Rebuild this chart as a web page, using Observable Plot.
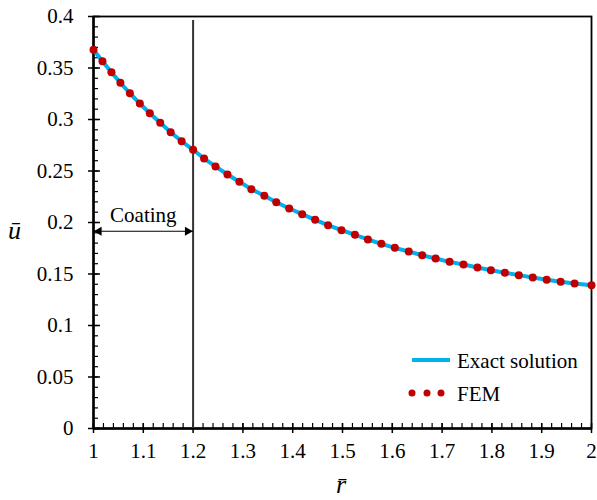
<!DOCTYPE html>
<html><head><meta charset="utf-8">
<script src="https://cdn.jsdelivr.net/npm/d3@7"></script>
<script src="https://cdn.jsdelivr.net/npm/@observablehq/plot@0.6"></script>
<style>
body{margin:0;background:#fff;}
#wrap{position:relative;width:597px;height:500px;font-family:'Liberation Serif','Times New Roman',serif;color:#000;}
.lab{position:absolute;font-style:italic;font-size:26px;line-height:1;font-family:'Liberation Serif','Times New Roman',serif;}
</style></head><body><div id="wrap"></div>
<script>
// data
const rValues = [1.000,1.018,1.036,1.054,1.073,1.093,1.113,1.134,1.155,1.177,1.200,
  1.222,1.245,1.269,1.293,1.317,1.343,1.367,1.393,1.419,1.445,
  1.471,1.498,1.525,1.551,1.578,1.605,1.633,1.660,1.687,1.715,
  1.743,1.771,1.798,1.826,1.854,1.882,1.910,1.938,1.966,2.000];
const uValues = [0.3677,0.3566,0.3459,0.3356,0.3255,0.3155,0.3061,0.2968,0.2877,0.2789,0.2706,
  0.2621,0.2544,0.2466,0.2395,0.2324,0.2259,0.2197,0.2136,0.2081,0.2026,
  0.1974,0.1925,0.1881,0.1835,0.1793,0.1754,0.1718,0.1682,0.1650,0.1618,
  0.1592,0.1563,0.1537,0.1512,0.1489,0.1466,0.1444,0.1425,0.1408,0.1391];
const xTicks = [1,1.1,1.2,1.3,1.4,1.5,1.6,1.7,1.8,1.9,2];
const xTickLabels = ["1","1.1","1.2","1.3","1.4","1.5","1.6","1.7","1.8","1.9","2"];
const yTicks = [0,0.05,0.1,0.15,0.2,0.25,0.3,0.35,0.4];
const yTickLabels = ["0","0.05","0.1","0.15","0.2","0.25","0.3","0.35","0.4"];
const xMinor = d3.range(0,51).map(i => 1 + i*0.02);
const yMinor = d3.range(0,41).map(i => i*0.01);
const coatingStart = 1.0, coatingEnd = 1.2, arrowY = 0.1915;
const seriesNames = ["Exact solution","FEM"];

const data = rValues.map((r,i) => ({r, u: uValues[i]}));
const xLab = new Map(xTicks.map((t,i)=>[t,xTickLabels[i]]));
const yLab = new Map(yTicks.map((t,i)=>[t,yTickLabels[i]]));

const W=597,H=500,mL=93,mR=6,mT=16,mB=72;
const pW=W-mL-mR, pH=H-mT-mB;
const FONT = "'Liberation Serif', 'Times New Roman', serif";

const chart = Plot.plot({
  width:W, height:H, marginLeft:mL, marginRight:mR, marginTop:mT, marginBottom:mB,
  style:{fontFamily:FONT, fontSize:"21px", color:"#000", background:"#fff"},
  x:{domain:[1,2]}, y:{domain:[0,0.4]},
  marks:[
    Plot.tickX(xMinor,{x:d=>d, insetTop:pH-5, stroke:"#000", strokeWidth:1.2}),
    Plot.tickY(yMinor,{y:d=>d, insetRight:pW-5, stroke:"#000", strokeWidth:1.2}),
    Plot.tickX(xTicks,{x:d=>d, insetTop:pH-5, stroke:"#000", strokeWidth:1.5}),
    Plot.tickY(yTicks,{y:d=>d, insetRight:pW-7, stroke:"#000", strokeWidth:1.5}),
    Plot.axisX({ticks:xTicks, tickSize:5, tickPadding:10, strokeWidth:1.5, stroke:"#000", tickFormat:d=>xLab.get(d), label:null, fontSize:21, fontFamily:FONT, fill:"#000"}),
    Plot.axisY({ticks:yTicks, tickSize:5, tickPadding:15, strokeWidth:1.5, stroke:"#000", tickFormat:d=>yLab.get(d), label:null, fontSize:21, fontFamily:FONT, fill:"#000"}),
    Plot.frame({stroke:"#000", strokeWidth:1.8}),
    Plot.ruleX([1],{stroke:"#000", strokeWidth:2.5}),
    Plot.ruleY([0],{stroke:"#000", strokeWidth:2.5}),
    Plot.ruleX([coatingEnd],{stroke:"#333", strokeWidth:2, insetTop:4}),
    Plot.link([0],{x1:()=>coatingStart, x2:()=>coatingEnd, y1:()=>arrowY, y2:()=>arrowY, stroke:"#000", strokeWidth:1.2}),
    Plot.dot([coatingStart],{x:d=>d, y:()=>arrowY, symbol:"triangle", r:3.4, rotate:-90, dx:5.5, fill:"#000", stroke:"none"}),
    Plot.dot([coatingEnd],{x:d=>d, y:()=>arrowY, symbol:"triangle", r:3.4, rotate:90, dx:-5.5, fill:"#000", stroke:"none"}),
    Plot.text(["Coating"],{x:()=>(coatingStart+coatingEnd)/2, y:()=>arrowY, text:d=>d, dy:-16, fontSize:21, fontFamily:FONT, fill:"#000"}),
    Plot.line(data,{x:"r", y:"u", stroke:"#00B0F0", strokeWidth:4}),
    Plot.dot(data,{x:"r", y:"u", r:4, fill:"#C00000", stroke:"none"})
  ]
});
const wrap = document.getElementById("wrap");
wrap.appendChild(chart);

// axis labels
const yl = document.createElement("div"); yl.className="lab"; yl.textContent="ū";
yl.style.left="8px"; yl.style.top="218px"; wrap.appendChild(yl);
const xl = document.createElement("div"); xl.className="lab"; xl.textContent="r\u0304";
xl.style.left="336px"; xl.style.top="472px"; wrap.appendChild(xl);

// legend overlay
const ns="http://www.w3.org/2000/svg";
const lg = document.createElementNS(ns,"svg");
lg.setAttribute("width",200); lg.setAttribute("height",70);
lg.style.position="absolute"; lg.style.left="400px"; lg.style.top="340px";
lg.innerHTML = `
<line x1="12" x2="50" y1="20" y2="20" stroke="#00B0F0" stroke-width="4"/>
<text x="57" y="28" style="font-family:${FONT};font-size:21px">${seriesNames[0]}</text>
<circle cx="12" cy="53" r="3.5" fill="#C00000"/>
<circle cx="27" cy="53" r="3.5" fill="#C00000"/>
<circle cx="41" cy="53" r="3.5" fill="#C00000"/>
<text x="57" y="61" style="font-family:${FONT};font-size:21px">${seriesNames[1]}</text>`;
wrap.appendChild(lg);
</script>
</body></html>
